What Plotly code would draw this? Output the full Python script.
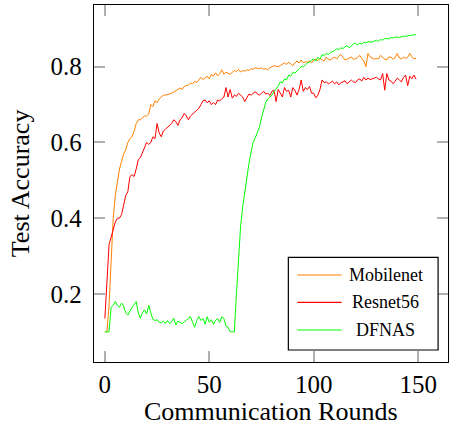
import plotly.graph_objects as go

rounds = list(range(150))

mobilenet = [
    0.10, 0.10, 0.17, 0.30, 0.40, 0.46, 0.50, 0.53, 0.55, 0.57,
    0.58, 0.60, 0.61, 0.615, 0.63, 0.65, 0.66, 0.66, 0.665, 0.67,
    0.67, 0.675, 0.70, 0.695, 0.71, 0.705, 0.715, 0.72, 0.725, 0.725,
    0.726, 0.727, 0.73, 0.733, 0.737, 0.74, 0.744, 0.74, 0.748, 0.75,
    0.752, 0.757, 0.755, 0.762, 0.758, 0.765, 0.772, 0.766, 0.77, 0.775,
    0.768, 0.78, 0.775, 0.784, 0.776, 0.782, 0.792, 0.78, 0.786, 0.784,
    0.78, 0.785, 0.79, 0.787, 0.793, 0.786, 0.79, 0.788, 0.792, 0.79,
    0.795, 0.793, 0.797, 0.796, 0.795, 0.797, 0.793, 0.795, 0.792, 0.797,
    0.80, 0.803, 0.801, 0.80, 0.803, 0.806, 0.81, 0.806, 0.812, 0.808,
    0.803, 0.81, 0.815, 0.81, 0.818, 0.81, 0.813, 0.812, 0.815, 0.81,
    0.818, 0.82, 0.816, 0.822, 0.818, 0.815, 0.825, 0.82, 0.818, 0.823,
    0.826, 0.82, 0.828, 0.832, 0.825, 0.818, 0.82, 0.822, 0.826, 0.82,
    0.821, 0.824, 0.83, 0.822, 0.815, 0.80, 0.835, 0.826, 0.824, 0.82,
    0.822, 0.821, 0.83, 0.824, 0.82, 0.818, 0.826, 0.825, 0.82, 0.824,
    0.835, 0.823, 0.82, 0.826, 0.822, 0.825, 0.835, 0.826, 0.821, 0.822,
]

resnet56 = [
    0.135, 0.24, 0.33, 0.35, 0.37, 0.39, 0.40, 0.40, 0.41, 0.44,
    0.46, 0.47, 0.51, 0.515, 0.51, 0.53, 0.555, 0.56, 0.575, 0.59,
    0.60, 0.595, 0.60, 0.615, 0.61, 0.65, 0.625, 0.615, 0.63, 0.635,
    0.64, 0.645, 0.65, 0.66, 0.655, 0.645, 0.66, 0.665, 0.677, 0.67,
    0.66, 0.67, 0.675, 0.68, 0.685, 0.69, 0.70, 0.71, 0.712, 0.705,
    0.71, 0.70, 0.705, 0.70, 0.712, 0.71, 0.715, 0.72, 0.745, 0.72,
    0.74, 0.717, 0.725, 0.722, 0.73, 0.725, 0.72, 0.708, 0.72, 0.728,
    0.725, 0.73, 0.734, 0.728, 0.725, 0.73, 0.735, 0.728, 0.73, 0.724,
    0.735, 0.738, 0.708, 0.74, 0.73, 0.72, 0.745, 0.735, 0.738, 0.72,
    0.745, 0.738, 0.725, 0.74, 0.765, 0.735, 0.745, 0.74, 0.748, 0.73,
    0.73, 0.718, 0.725, 0.74, 0.765, 0.758, 0.76, 0.755, 0.758, 0.762,
    0.755, 0.76, 0.752, 0.758, 0.76, 0.763, 0.755, 0.76, 0.765, 0.76,
    0.758, 0.765, 0.768, 0.762, 0.772, 0.765, 0.77, 0.766, 0.768, 0.77,
    0.772, 0.768, 0.765, 0.782, 0.738, 0.782, 0.765, 0.762, 0.755, 0.762,
    0.77, 0.765, 0.76, 0.772, 0.778, 0.75, 0.775, 0.768, 0.778, 0.767,
]

dfnas = [
    0.10, 0.10, 0.10, 0.165, 0.17, 0.18, 0.17, 0.165, 0.176, 0.168,
    0.15, 0.144, 0.155, 0.165, 0.172, 0.18, 0.15, 0.136, 0.15, 0.158,
    0.147, 0.17, 0.15, 0.133, 0.13, 0.132, 0.125, 0.124, 0.128, 0.122,
    0.13, 0.122, 0.127, 0.136, 0.118, 0.128, 0.125, 0.122, 0.126, 0.13,
    0.135, 0.14, 0.125, 0.112, 0.13, 0.14, 0.13, 0.135, 0.12, 0.14,
    0.125, 0.132, 0.12, 0.13, 0.135, 0.125, 0.14, 0.135, 0.115, 0.112,
    0.10, 0.10, 0.10, 0.20, 0.30, 0.38, 0.43, 0.47, 0.51, 0.545,
    0.575, 0.60, 0.612, 0.625, 0.64, 0.665, 0.685, 0.705, 0.715, 0.72,
    0.725, 0.735, 0.74, 0.75, 0.76, 0.757, 0.768, 0.765, 0.778, 0.775,
    0.785, 0.783, 0.79, 0.795, 0.80, 0.80, 0.805, 0.81, 0.812, 0.818,
    0.82, 0.815, 0.825, 0.82, 0.832, 0.83, 0.835, 0.832, 0.838, 0.84,
    0.842, 0.848, 0.845, 0.85, 0.848, 0.853, 0.855, 0.85, 0.856, 0.86,
    0.862, 0.858, 0.862, 0.86, 0.865, 0.863, 0.866, 0.866, 0.865, 0.868,
    0.87, 0.867, 0.872, 0.87, 0.874, 0.875, 0.873, 0.877, 0.876, 0.878,
    0.879, 0.877, 0.88, 0.881, 0.88, 0.882, 0.883, 0.883, 0.884, 0.885,
]

series_names = ["Mobilenet", "Resnet56", "DFNAS"]
x_ticks = [0, 50, 100, 150]
y_ticks = [0.2, 0.4, 0.6, 0.8]
x_title = "Communication Rounds"
y_title = "Test Accuracy"

colors = ["#FF8000", "#FF0000", "#00FF00"]
font_serif = "Liberation Serif, Times New Roman, serif"

fig = go.Figure()
for name, vals, c in zip(series_names, [mobilenet, resnet56, dfnas], colors):
    fig.add_trace(go.Scatter(x=rounds, y=vals, mode="lines", name=name,
                             line=dict(color=c, width=1), showlegend=False))

axis_common = dict(
    showgrid=False, zeroline=False, showline=True, linecolor="black", linewidth=1.3,
    mirror="ticks", ticks="inside", ticklen=11, tickwidth=1.5, tickcolor="#b0b0b0",
    tickfont=dict(family=font_serif, size=25, color="black"),
    automargin=False,
)

fig.update_layout(
    width=450, height=427,
    margin=dict(l=93.5, r=1.7, t=5, b=65),
    plot_bgcolor="white", paper_bgcolor="white",
    xaxis=dict(range=[-5.2, 164.3], tickvals=x_ticks, ticktext=[str(v) for v in x_ticks],
               ticklabelstandoff=0, **axis_common),
    yaxis=dict(range=[0.0203, 0.963], tickvals=y_ticks, ticktext=[f"{v:.1f}" for v in y_ticks],
               ticklabelstandoff=6, **axis_common),
    showlegend=False,
)

# axis titles
fig.add_annotation(text=x_title, xref="paper", yref="paper", x=0.5, y=-0.181,
                   xanchor="center", yanchor="bottom", showarrow=False, borderpad=0,
                   font=dict(family=font_serif, size=26, color="black"))
fig.add_annotation(text=y_title, xref="paper", yref="paper", x=-0.207, y=0.5,
                   xanchor="center", yanchor="middle", showarrow=False, textangle=-90,
                   font=dict(family=font_serif, size=26, color="black"))

# legend box (pgfplots style, centred entries)
leg_x0, leg_x1, leg_y0, leg_y1 = 0.549, 0.972, 0.0336, 0.2933
fig.add_shape(type="rect", xref="paper", yref="paper", x0=leg_x0, x1=leg_x1, y0=leg_y0, y1=leg_y1,
              line=dict(color="black", width=1.2), fillcolor="white", layer="above")
entry_y = [0.2437, 0.1672, 0.0896]
for name, c, yy in zip(series_names, colors, entry_y):
    fig.add_shape(type="line", xref="paper", yref="paper", x0=0.5744, x1=0.6996, y0=yy, y1=yy,
                  line=dict(color=c, width=1.2), layer="above")
    fig.add_annotation(text=name, xref="paper", yref="paper", x=0.8236, y=yy,
                       xanchor="center", yanchor="middle", showarrow=False,
                       font=dict(family=font_serif, size=18, color="black"))

fig.write_html("out.html", config={"displayModeBar": False},
               post_script="document.body.style.margin='0';document.body.style.overflow='hidden';")
